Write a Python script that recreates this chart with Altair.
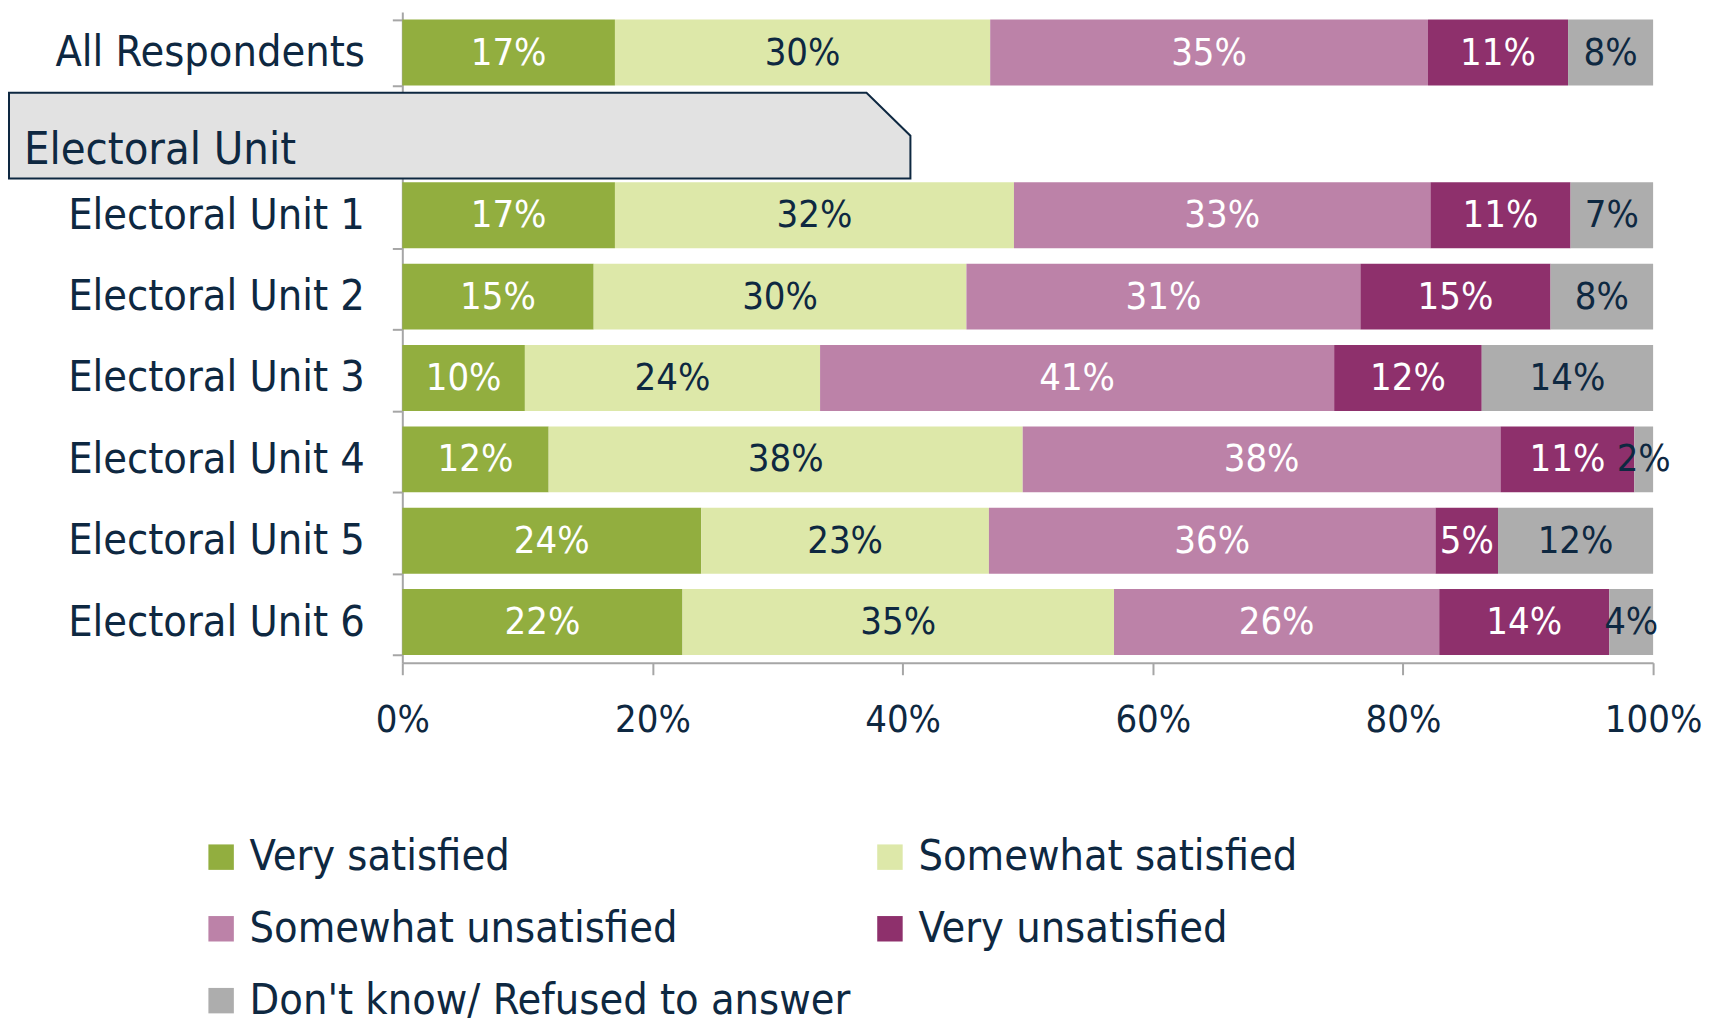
import altair as alt
import pandas as pd

# ---------------- data ----------------
row_domain = ["All Respondents", " ", "Electoral Unit 1", "Electoral Unit 2",
              "Electoral Unit 3", "Electoral Unit 4", "Electoral Unit 5", "Electoral Unit 6"]
rows = ["All Respondents", "Electoral Unit 1", "Electoral Unit 2", "Electoral Unit 3",
        "Electoral Unit 4", "Electoral Unit 5", "Electoral Unit 6"]

categories = ["Very satisfied", "Somewhat satisfied", "Somewhat unsatisfied",
              "Very unsatisfied", "Don't know/ Refused to answer"]

very_sat = [17.0, 17.0, 15.3, 9.8, 11.7, 23.9, 22.4]
some_sat = [30.0, 31.9, 29.8, 23.6, 37.9, 23.0, 34.5]
some_unsat = [35.0, 33.3, 31.5, 41.1, 38.2, 35.7, 26.0]
very_unsat = [11.2, 11.2, 15.2, 11.8, 10.7, 5.0, 13.6]
dont_know = [6.8, 6.6, 8.2, 13.7, 1.5, 12.4, 3.5]

very_sat_lbl = [17, 17, 15, 10, 12, 24, 22]
some_sat_lbl = [30, 32, 30, 24, 38, 23, 35]
some_unsat_lbl = [35, 33, 31, 41, 38, 36, 26]
very_unsat_lbl = [11, 11, 15, 12, 11, 5, 14]
dont_know_lbl = [8, 7, 8, 14, 2, 12, 4]

section_label = ["Electoral Unit"]
x_ticks = [0, 20, 40, 60, 80, 100]

colors = ["#92AE3F", "#DDE8A9", "#BC82A8", "#8E306C", "#ADADAD"]
NAVY = "#0E2841"
GREY = "#A6A6A6"
FONT = "DejaVu Sans Condensed"

series = [very_sat, some_sat, some_unsat, very_unsat, dont_know]
labels = [very_sat_lbl, some_sat_lbl, some_unsat_lbl, very_unsat_lbl, dont_know_lbl]

recs = []
for i, r in enumerate(rows):
    start = 0.0
    for k, c in enumerate(categories):
        v = series[k][i]
        recs.append({"row": r, "cat": c, "order": k, "value": v,
                     "x0": start, "x1": start + v, "mid": start + v / 2,
                     "label": f"{labels[k][i]}%"})
        start += v
df = pd.DataFrame(recs)

W, H = 1253, 652

yscale = alt.Scale(domain=row_domain, paddingInner=0.19, paddingOuter=0.095)
xscale = alt.Scale(domain=[0, 100], nice=False)

base = alt.Chart(df)

bars = base.mark_bar(size=66).encode(
    y=alt.Y("row:N", scale=yscale, title=None,
            axis=alt.Axis(domainColor=GREY, domainWidth=2, tickColor=GREY, tickWidth=2,
                          tickSize=10, tickBand="extent", tickOffset=7.7,
                          labelFont=FONT, labelFontSize=43,
                          labelColor=NAVY, labelPadding=28, labelLimit=600)),
    x=alt.X("x0:Q", scale=xscale, title=None,
            axis=alt.Axis(values=x_ticks, labelExpr="datum.value + '%'", grid=False,
                          domainColor=GREY, domainWidth=2, tickColor=GREY, tickWidth=2,
                          tickSize=12, labelFont=FONT, labelFontSize=38, labelColor=NAVY,
                          labelPadding=27, labelFlush=False)),
    x2="x1:Q",
    color=alt.Color("cat:N", scale=alt.Scale(domain=categories, range=colors),
                    legend=alt.Legend(title=None, orient="none", legendX=-203, legendY=825,
                                      direction="horizontal",
                                      columns=2, columnPadding=17, rowPadding=28,
                                      symbolType="square", symbolSize=650,
                                      symbolStrokeWidth=0, symbolOpacity=1,
                                      labelFont=FONT, labelFontSize=43, labelColor=NAVY,
                                      labelOffset=7, labelLimit=1000)),
    order=alt.Order("order:Q"),
)

text = base.mark_text(font=FONT, fontSize=38, baseline="middle", align="center", dy=1).encode(
    y=alt.Y("row:N", scale=yscale),
    x=alt.X("mid:Q", scale=xscale),
    text="label:N",
    color=alt.condition(
        "datum.cat == 'Very satisfied' || datum.cat == 'Somewhat unsatisfied' || datum.cat == 'Very unsatisfied'",
        alt.value("white"), alt.value(NAVY)),
)

main = alt.layer(bars, text)

# section header box (decoration, pixel coords relative to the plot area)
box_df = pd.DataFrame({"bx": [-394, 465, 509], "by": [81, 81, 124], "by2": [167, 167, 167]})
box = alt.Chart(box_df).mark_area(fill="#E2E2E2", stroke=NAVY, strokeWidth=2,
                                  interpolate="linear", orient="vertical").encode(
    x=alt.X("bx:Q", scale=None, axis=None),
    y=alt.Y("by:Q", scale=None, axis=None),
    y2="by2:Q",
)
header = alt.Chart(pd.DataFrame({"t": section_label})).mark_text(
    font=FONT, fontSize=45, align="left", baseline="alphabetic", color=NAVY).encode(
    text="t:N", x=alt.value(-379), y=alt.value(152))

chart = alt.layer(main, box, header).resolve_scale(
    x="independent", y="independent", color="independent"
).properties(
    width=W, height=H,
    autosize=alt.AutoSizeParams(type="none"),
    padding={"left": 395, "top": 3, "right": 62, "bottom": 360},
).configure(background="white", view=alt.ViewConfig(stroke=None))

chart.save("out.html", embed_options={"renderer": "svg", "actions": False})
